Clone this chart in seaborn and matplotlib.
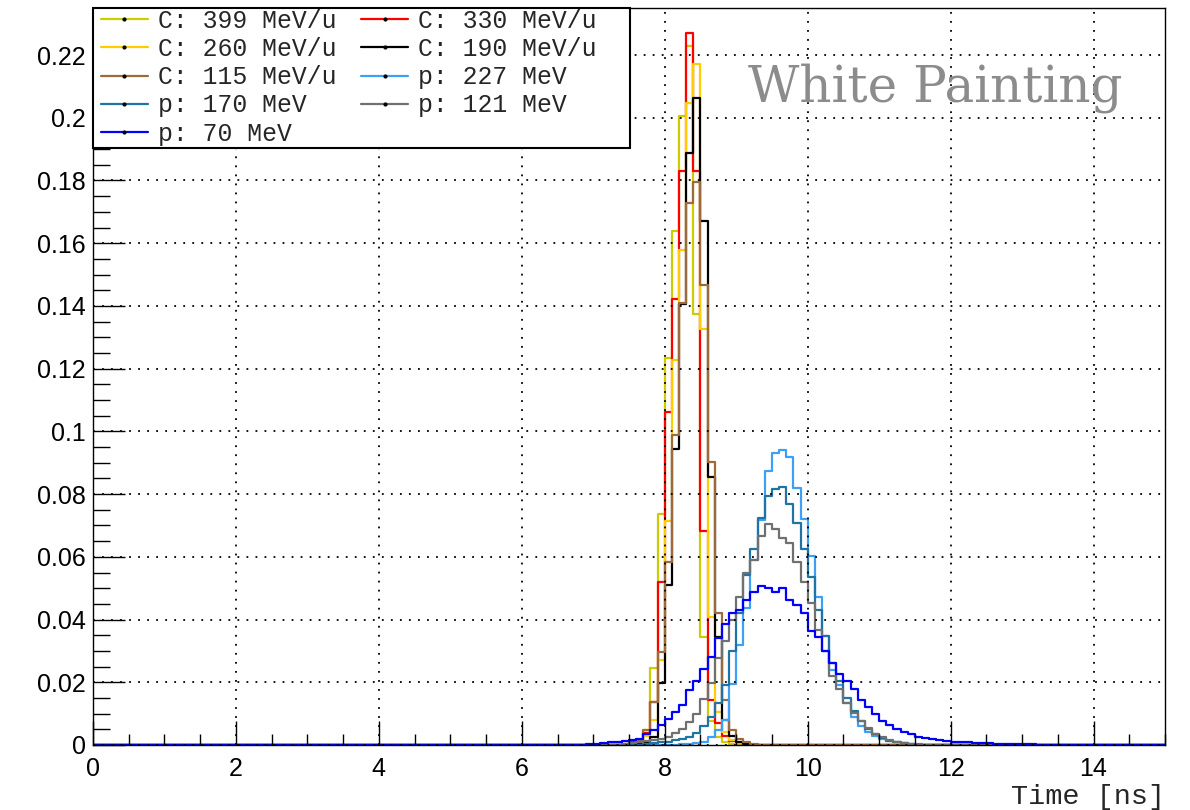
import numpy as np
import pandas as pd
import matplotlib
matplotlib.use("Agg")
import matplotlib.pyplot as plt
import seaborn as sns
from matplotlib.lines import Line2D
from matplotlib.patches import Rectangle
from matplotlib.ticker import MultipleLocator, FuncFormatter

sns.set_theme(style="white")
plt.rcParams['font.family'] = ['Liberation Sans', 'DejaVu Sans']

# ---------------- data (bin width 0.1 ns, values per bin starting at *_start) ----------------
bin_width = 0.1
x_range = (0.0, 15.0)

labels = ["C: 399 MeV/u", "C: 330 MeV/u", "C: 260 MeV/u", "C: 190 MeV/u",
          "C: 115 MeV/u", "p: 227 MeV", "p: 170 MeV", "p: 121 MeV", "p: 70 MeV"]
colors = ["#cccc00", "#ff0000", "#ffcc00", "#000000", "#9c6b3c",
          "#3da0f5", "#1f74a3", "#707070", "#0000ff"]

c399_start = 7.5
c399 = [0.0004, 0.0012, 0.0047, 0.0247, 0.0738, 0.1234, 0.164, 0.2005, 0.223,
        0.1375, 0.0344, 0.0075, 0.0025, 0.001, 0.0004]

c330_start = 7.4
c330 = [0.0003, 0.0008, 0.0015, 0.0037, 0.0138, 0.052, 0.1062, 0.1423, 0.1831,
        0.2269, 0.1831, 0.0683, 0.0144, 0.007, 0.003, 0.0012, 0.0005]

c260_start = 7.5
c260 = [0.0003, 0.0008, 0.003, 0.008, 0.027, 0.0715, 0.1227, 0.1578, 0.2046,
        0.2173, 0.1328, 0.0407, 0.0105, 0.004, 0.0015, 0.0006]

c190_start = 7.6
c190 = [0.0003, 0.001, 0.0026, 0.0197, 0.051, 0.0945, 0.1405, 0.1889, 0.2062,
        0.1672, 0.0853, 0.0343, 0.008, 0.003, 0.001, 0.0004]

c115_start = 7.5
c115 = [0.0004, 0.0012, 0.0047, 0.0137, 0.0297, 0.0584, 0.0987, 0.141, 0.1729,
        0.1794, 0.1468, 0.0901, 0.0421, 0.0145, 0.0047, 0.002, 0.001, 0.0004]

p227_start = 8.2
p227 = [0.0002, 0.0004, 0.0006, 0.001, 0.0024, 0.0047, 0.0079, 0.0195, 0.032,
        0.0436, 0.059, 0.0718, 0.0874, 0.0931, 0.0941, 0.0917, 0.0819, 0.072,
        0.0604, 0.0473, 0.0346, 0.024, 0.019, 0.0135, 0.009, 0.0062, 0.004,
        0.0028, 0.0018, 0.0012, 0.0008, 0.0005, 0.0003]

p170_start = 7.7
p170 = [0.0003, 0.0005, 0.0008, 0.0011, 0.0015, 0.002, 0.0027, 0.0037, 0.006,
        0.009, 0.0135, 0.019, 0.030, 0.042, 0.0543, 0.0625, 0.0725, 0.0793,
        0.0817, 0.0824, 0.0768, 0.0707, 0.0625, 0.0537, 0.0431, 0.0346, 0.026,
        0.0205, 0.015, 0.011, 0.0075, 0.005, 0.0034, 0.0022, 0.0014, 0.0009,
        0.0005, 0.0003]

p121_start = 7.4
p121 = [0.0003, 0.0005, 0.0008, 0.0012, 0.0017, 0.002, 0.0024, 0.0037, 0.005,
        0.0074, 0.010, 0.0147, 0.0197, 0.0279, 0.0332, 0.040, 0.0471, 0.0548,
        0.059, 0.0665, 0.0704, 0.069, 0.066, 0.0644, 0.0583, 0.0521, 0.0452,
        0.0367, 0.030, 0.022, 0.0178, 0.0135, 0.0103, 0.0075, 0.0053, 0.0036,
        0.0024, 0.0016, 0.001, 0.0006, 0.0004, 0.0002]

p70_start = 6.9
p70 = [0.0002, 0.0004, 0.0006, 0.0008, 0.001, 0.0012, 0.0015, 0.0019, 0.0035,
       0.0048, 0.0065, 0.0083, 0.0104, 0.0129, 0.0176, 0.0205, 0.0243, 0.028,
       0.034, 0.0385, 0.042, 0.043, 0.0463, 0.0489, 0.0508, 0.0502, 0.0489,
       0.050, 0.0463, 0.0447, 0.042, 0.0362, 0.0345, 0.030, 0.0261, 0.0226,
       0.0203, 0.0177, 0.0142, 0.0121, 0.0098, 0.0075, 0.0065, 0.0051, 0.004,
       0.0035, 0.0026, 0.0022, 0.0018, 0.0015, 0.0013, 0.0011, 0.001, 0.0008,
       0.0007, 0.0006, 0.0005, 0.0004, 0.0004, 0.0003, 0.0003, 0.0002, 0.0002,
       0.0001, 0.0001]

series = [(c399_start, c399), (c330_start, c330), (c260_start, c260),
          (c190_start, c190), (c115_start, c115), (p227_start, p227),
          (p170_start, p170), (p121_start, p121), (p70_start, p70)]

n_bins = int(round((x_range[1] - x_range[0]) / bin_width))
centers = x_range[0] + bin_width * (np.arange(n_bins) + 0.5)

rows = []
for lab, (start, vals) in zip(labels, series):
    full = np.zeros(n_bins)
    i0 = int(round((start - x_range[0]) / bin_width))
    full[i0:i0 + len(vals)] = vals
    for c, v in zip(centers, full):
        rows.append({"time": float(c), "weight": float(v), "beam": lab})
df = pd.DataFrame(rows)

# ---------------- figure ----------------
W, H = 1190, 810
fig = plt.figure(figsize=(W / 100, H / 100), dpi=100)
ax = fig.add_axes([93 / W, 65 / H, 1072 / W, 737 / H])

for lab, col in zip(labels, colors):
    sub = df[df["beam"] == lab]
    sns.histplot(data=sub, x="time", weights="weight", binwidth=bin_width,
                 binrange=x_range, element="step", fill=False, color=col,
                 linewidth=1.6, ax=ax)

ax.set_xlim(0, 15)
ax.set_ylim(0, 0.235)

# grid
ax.grid(True, which="major", color="black", linestyle=(0, (1, 4)), linewidth=1.3)
ax.set_axisbelow(False)

ax.xaxis.set_major_locator(MultipleLocator(2))
ax.xaxis.set_minor_locator(MultipleLocator(0.5))
ax.yaxis.set_major_locator(MultipleLocator(0.02))
ax.yaxis.set_minor_locator(MultipleLocator(0.005))
ax.yaxis.set_major_formatter(FuncFormatter(lambda v, p: "%g" % round(v, 4)))
ax.tick_params(axis="both", which="both", direction="in", colors="black",
               labelsize=18, bottom=True, left=True)
ax.tick_params(axis="x", which="major", length=17, width=1, pad=9)
ax.tick_params(axis="x", which="minor", length=8, width=1)
ax.tick_params(axis="y", which="major", length=23, width=1, pad=5)
ax.tick_params(axis="y", which="minor", length=12, width=1)

for s in ax.spines.values():
    s.set_color("black")
    s.set_linewidth(1.0)

ax.set_xlabel("Time [ns]", loc="right", fontsize=20.5, family="Liberation Mono",
              labelpad=2)
ax.set_ylabel("")

ax.text(0.786, 0.891, "White Painting", transform=ax.transAxes, fontsize=36,
        family="DejaVu Serif", color="#8c8c8c", ha="center", va="center")

# legend box (ROOT-style fixed-size frame)
ax.add_patch(Rectangle((0, 0.810), 0.501, 0.190, transform=ax.transAxes,
                       facecolor="white", edgecolor="black", linewidth=1.5,
                       zorder=4.9, clip_on=False))

# legend filled row by row (two columns), as in the reference
handles = [Line2D([0], [0], color=c, linewidth=1.6, marker="o", markersize=2,
                  markerfacecolor="black", markeredgecolor="black")
           for c in colors]
order = list(range(0, len(labels), 2)) + list(range(1, len(labels), 2))
leg = ax.legend([handles[i] for i in order], [labels[i] for i in order],
                loc="upper left", bbox_to_anchor=(0.004, 1.004),
                borderaxespad=0, ncol=2, frameon=False,
                prop={"family": "Liberation Mono", "size": 17.8},
                handlelength=1.9, handletextpad=0.4, columnspacing=1.0,
                labelspacing=0.17, borderpad=0.15)
leg.set_zorder(5)

fig.savefig("out.png", dpi=100)
